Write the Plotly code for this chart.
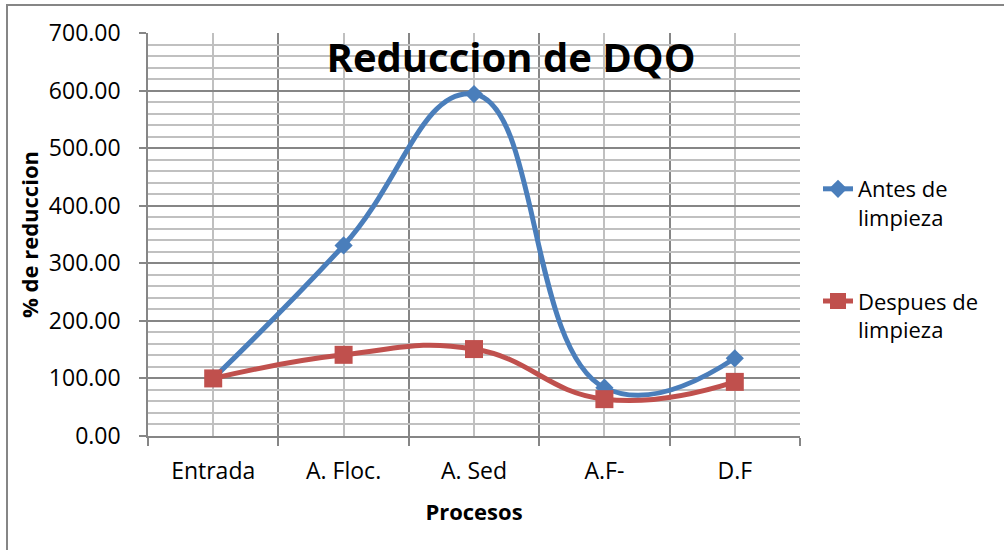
import plotly.graph_objects as go

categories = ["Entrada", "A. Floc.", "A. Sed", "A.F-", "D.F"]
antes = [100, 331, 594, 84, 135]
despues = [100, 141, 151, 64, 94]
series_names = ["Antes de<br>limpieza", "Despues de<br>limpieza"]
y_ticks = [0, 100, 200, 300, 400, 500, 600, 700]

FONT = "Open Sans"
x_idx = list(range(len(categories)))

fig = go.Figure()
fig.add_trace(go.Scatter(
    x=x_idx, y=antes, name=series_names[0], legendgroup="a",
    mode="lines+markers",
    line=dict(color="#4A7EBB", width=5, shape="spline", smoothing=1.3),
    marker=dict(symbol="diamond", size=14, color="#4A7EBB"),
))
fig.add_trace(go.Scatter(
    x=x_idx, y=despues, name=series_names[1], legendgroup="b",
    mode="lines+markers",
    line=dict(color="#C0504D", width=5, shape="spline", smoothing=1.3),
    marker=dict(symbol="square", size=18, color="#C0504D"),
))

L, R, T, B = 148, 204, 33, 114
W, H = 1004, 550
pw, ph = W - L - R, H - T - B

def px_x(p):
    return (p - L) / pw

def px_y(p):
    return (H - B - p) / ph

fig.update_layout(
    width=W, height=H,
    margin=dict(l=L, r=R, t=T, b=B, pad=0, autoexpand=False),
    paper_bgcolor="white", plot_bgcolor="white",
    font=dict(family=FONT, size=23, color="black"),
    title=dict(text="<b>Reduccion de DQO</b>", font=dict(size=40, family=FONT, color="black"),
               x=511 / W, xanchor="center", y=1 - 58 / H, yanchor="middle", xref="container"),
    showlegend=True,
    legend=dict(x=px_x(818), xanchor="left", y=px_y(168), yanchor="top",
                font=dict(size=22, family=FONT), tracegroupgap=52, valign="top",
                bgcolor="rgba(0,0,0,0)"),
    shapes=[dict(type="rect", xref="paper", yref="paper",
                 x0=px_x(7), x1=px_x(1012), y0=px_y(560), y1=px_y(5),
                 line=dict(color="#868686", width=2), layer="below")],
)

fig.update_xaxes(
    range=[-0.5, len(categories) - 0.5],
    tickmode="array", tickvals=x_idx, ticktext=categories,
    showgrid=True, gridcolor="#C0C0C0", gridwidth=1.5,
    ticks="", ticklabelstandoff=14,
    showline=True, linecolor="#868686", linewidth=1.5,
    minor=dict(tickmode="linear", tick0=-0.5, dtick=1, showgrid=True,
               gridcolor="#868686", gridwidth=1.5, ticks="outside", ticklen=8,
               tickcolor="#868686", tickwidth=1.5),
    zeroline=False, automargin=False,
    title=dict(text="<b>Procesos</b>", font=dict(size=22, family=FONT), standoff=19),
    fixedrange=True,
)
fig.update_yaxes(
    range=[0, 700], tickmode="array", tickvals=y_ticks,
    ticktext=[f"{v:.2f}" for v in y_ticks],
    showgrid=True, gridcolor="#868686", gridwidth=1.5,
    ticks="outside", ticklen=7, tickcolor="#868686", tickwidth=1.5,
    ticklabelstandoff=14,
    showline=True, linecolor="#868686", linewidth=1.5,
    minor=dict(tickmode="linear", tick0=0, dtick=20, showgrid=True,
               gridcolor="#C0C0C0", gridwidth=1.5, ticks=""),
    zeroline=False, automargin=False,
    title=dict(text="<b>% de reduccion</b>", font=dict(size=22, family=FONT), standoff=4),
    fixedrange=True,
)

fig.write_html("out.html", config={"displayModeBar": False},
               post_script="document.body.style.margin='0';")
